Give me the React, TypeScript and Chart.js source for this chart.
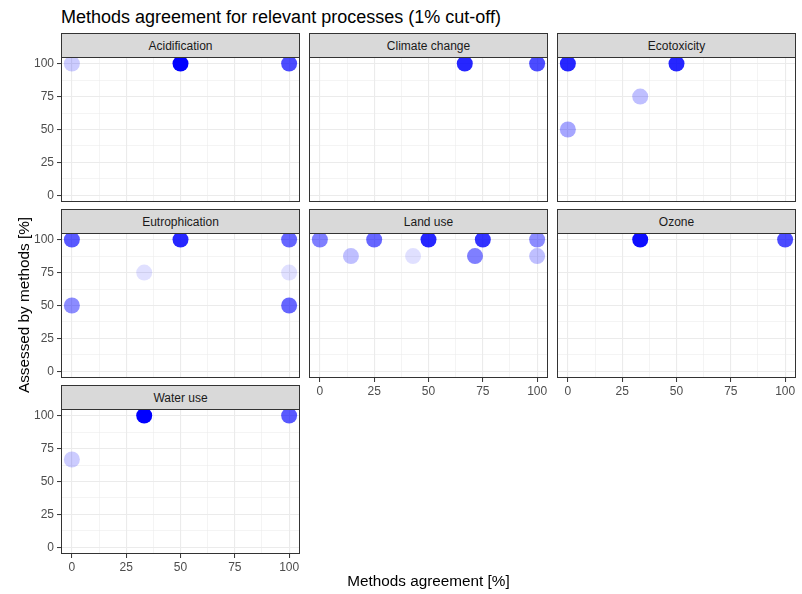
import React, { useEffect, useRef } from "react";
import { Chart, registerables } from "chart.js";

Chart.register(...registerables);

const FONT = "'Liberation Sans', Arial, sans-serif";

// ---- data ----
const majorTicks = [0, 25, 50, 75, 100];
const minorTicks = [12.5, 37.5, 62.5, 87.5];

const acidificationX = [0, 50, 100];
const acidificationY = [100, 100, 100];
const acidificationAlpha = [0.2, 1.0, 0.7];

const climateX = [66.7, 100];
const climateY = [100, 100];
const climateAlpha = [0.85, 0.7];

const ecotoxX = [0, 50, 33.3, 0];
const ecotoxY = [100, 100, 75, 50];
const ecotoxAlpha = [0.85, 0.85, 0.25, 0.35];

const eutroX = [0, 50, 100, 33.3, 100, 0, 100];
const eutroY = [100, 100, 100, 75, 75, 50, 50];
const eutroAlpha = [0.65, 0.85, 0.6, 0.12, 0.12, 0.45, 0.6];

const landX = [0, 14.3, 25, 42.9, 50, 71.4, 75, 100, 100];
const landY = [100, 87.5, 100, 87.5, 100, 87.5, 100, 100, 87.5];
const landAlpha = [0.5, 0.25, 0.6, 0.12, 0.85, 0.5, 0.8, 0.45, 0.25];

const ozoneX = [33.3, 100];
const ozoneY = [100, 100];
const ozoneAlpha = [0.95, 0.7];

const waterX = [0, 33.3, 100];
const waterY = [66.7, 100, 100];
const waterAlpha = [0.2, 1.0, 0.65];

const panelNames = ["Acidification", "Climate change", "Ecotoxicity", "Eutrophication", "Land use", "Ozone", "Water use"];
const panelXs = [acidificationX, climateX, ecotoxX, eutroX, landX, ozoneX, waterX];
const panelYs = [acidificationY, climateY, ecotoxY, eutroY, landY, ozoneY, waterY];
const panelAlphas = [acidificationAlpha, climateAlpha, ecotoxAlpha, eutroAlpha, landAlpha, ozoneAlpha, waterAlpha];

// ---- layout ----
const colLeft = [61, 309, 557];
const rowTop = [57, 233, 409];
const PW = 239;
const PH = 145;
const STRIP = 24;
const YAXW = 61;
const XAXH = 26;

const gridVals = [...majorTicks, ...minorTicks].sort((a, b) => a - b);
const isMajor = (v: number) => majorTicks.includes(v);

function Panel({ idx }: { idx: number }) {
  const ref = useRef<HTMLCanvasElement>(null);
  const col = idx % 3;
  const row = Math.floor(idx / 3);
  const showY = col === 0;
  const showX = idx >= 4;
  const left = colLeft[col] - (showY ? YAXW : 0);
  const top = rowTop[row];
  const w = PW + (showY ? YAXW : 0);
  const h = PH + (showX ? XAXH : 0);

  useEffect(() => {
    if (!ref.current) return;
    const xs = panelXs[idx];
    const ys = panelYs[idx];
    const al = panelAlphas[idx];
    const borderPlugin = {
      id: "panelBorder",
      afterDatasetsDraw(chart: any) {
        const { ctx, chartArea: a } = chart;
        ctx.save();
        ctx.strokeStyle = "#333333";
        ctx.lineWidth = 1;
        ctx.strokeRect(a.left + 0.5, a.top + 0.5, a.right - a.left - 1, a.bottom - a.top - 1);
        ctx.restore();
      },
    };
    const mkGrid = (drawTicks: boolean) => ({
      color: "#EBEBEB",
      lineWidth: (c: any) => (c.tick && isMajor(c.tick.value) ? 1.1 : 0.55),
      drawTicks,
      tickLength: 4,
      tickWidth: 1,
      tickColor: (c: any) => (c.tick && isMajor(c.tick.value) ? "#333333" : "rgba(0,0,0,0)"),
    });
    const chart = new Chart(ref.current, {
      type: "scatter",
      data: {
        datasets: [
          {
            data: xs.map((x, i) => ({ x, y: ys[i] })),
            backgroundColor: al.map((a) => `rgba(0,0,255,${a})`),
            borderWidth: 0,
            pointRadius: 8,
            pointHoverRadius: 8,
            clip: false as any,
          },
        ],
      },
      options: {
        responsive: false,
        animation: false,
        events: [],
        layout: { padding: 0, autoPadding: false },
        plugins: { legend: { display: false }, tooltip: { enabled: false }, title: { display: false } },
        scales: {
          x: {
            type: "linear",
            min: -5,
            max: 105,
            afterBuildTicks: (s: any) => {
              s.ticks = gridVals.map((v) => ({ value: v }));
            },
            afterFit: (s: any) => {
              s.height = showX ? XAXH : 0;
              s.paddingLeft = 0;
              s.paddingRight = 0;
            },
            ticks: {
              display: showX,
              autoSkip: false,
              maxRotation: 0,
              padding: 2,
              color: "#4D4D4D",
              font: { family: FONT, size: 12 },
              callback: (v: any) => (isMajor(Number(v)) ? String(v) : ""),
            },
            grid: mkGrid(showX) as any,
            border: { display: false },
          },
          y: {
            type: "linear",
            min: -5,
            max: 105,
            afterBuildTicks: (s: any) => {
              s.ticks = gridVals.map((v) => ({ value: v }));
            },
            afterFit: (s: any) => {
              s.width = showY ? YAXW : 0;
              s.paddingTop = 0;
              s.paddingBottom = 0;
            },
            ticks: {
              display: showY,
              autoSkip: false,
              padding: 3,
              color: "#4D4D4D",
              font: { family: FONT, size: 12 },
              callback: (v: any) => (isMajor(Number(v)) ? String(v) : ""),
            },
            grid: mkGrid(showY) as any,
            border: { display: false },
          },
        },
      },
      plugins: [borderPlugin],
    });
    return () => chart.destroy();
  }, [idx]);

  return (
    <>
      <canvas
        ref={ref}
        width={w}
        height={h}
        style={{ position: "absolute", left, top, width: w, height: h }}
      />
      <div
        style={{
          position: "absolute",
          left: colLeft[col],
          top: top - STRIP,
          width: PW,
          height: STRIP + 1,
          boxSizing: "border-box",
          background: "#D9D9D9",
          border: "1px solid #333333",
          color: "#1A1A1A",
          fontFamily: FONT,
          fontSize: 12,
          display: "flex",
          alignItems: "center",
          justifyContent: "center",
        }}
      >
        {panelNames[idx]}
      </div>
    </>
  );
}

export default function App() {
  return (
    <div
      style={{
        position: "fixed",
        left: 0,
        top: 0,
        width: 802,
        height: 594,
        background: "#FFFFFF",
        overflow: "hidden",
        fontFamily: FONT,
      }}
    >
      <div style={{ position: "absolute", left: 61, top: 6, fontSize: 18, color: "#000", whiteSpace: "nowrap", lineHeight: "22px" }}>
        Methods agreement for relevant processes (1% cut-off)
      </div>
      {panelNames.map((_, i) => (
        <Panel key={i} idx={i} />
      ))}
      <div
        style={{
          position: "absolute",
          left: 61,
          width: 735,
          top: 571,
          textAlign: "center",
          fontSize: 15.3,
          color: "#000",
          lineHeight: "20px",
        }}
      >
        Methods agreement [%]
      </div>
      <div
        style={{
          position: "absolute",
          left: 24 - 150,
          top: 305 - 10,
          width: 300,
          height: 20,
          lineHeight: "20px",
          textAlign: "center",
          fontSize: 15.3,
          color: "#000",
          transform: "rotate(-90deg)",
          transformOrigin: "150px 10px",
          whiteSpace: "nowrap",
        }}
      >
        Assessed by methods [%]
      </div>
    </div>
  );
}
